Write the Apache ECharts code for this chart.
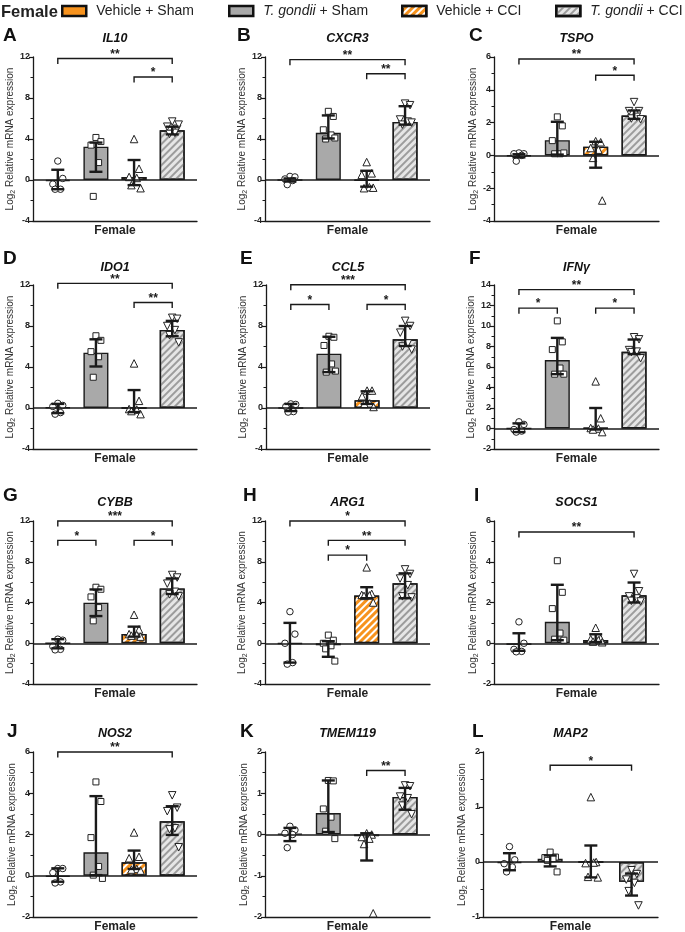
<!DOCTYPE html>
<html>
<head>
<meta charset="utf-8">
<script src="https://cdn.jsdelivr.net/npm/echarts@6.0.0/dist/echarts.min.js"></script>
<style>
html, body { margin: 0; padding: 0; background: #fff; }
#main { width: 685px; height: 932px; }
</style>
</head>
<body>
<div id="main"></div>
<script>
// groups and panels
const groupNames = ['Vehicle + Sham', 'T. gondii + Sham', 'Vehicle + CCI', 'T. gondii + CCI'];
const panelLetters = ['A', 'B', 'C', 'D', 'E', 'F', 'G', 'H', 'I', 'J', 'K', 'L'];
const genes = ['IL10', 'CXCR3', 'TSPO', 'IDO1', 'CCL5', 'IFNγ', 'CYBB', 'ARG1', 'SOCS1', 'NOS2', 'TMEM119', 'MAP2'];
const xLabel = ['Female'];

// y axis ranges
const yMin = [-4, -4, -4, -4, -4, -2, -4, -4, -2, -2, -2, -1];
const yMax = [12, 12, 6, 12, 12, 14, 12, 12, 6, 6, 2, 2];
const yStep = [4, 4, 2, 4, 4, 2, 4, 4, 2, 2, 1, 1];

// bar heights (one per group)
const barMed = [
    [-0.1, 3.25, 0.3, 4.85],
    [0.0, 4.6, -0.05, 5.67],
    [-0.05, 0.93, 0.53, 2.43],
    [0.05, 5.4, 0.0, 7.62],
    [0.0, 5.3, 0.75, 6.7],
    [0.0, 6.68, 0.05, 7.48],
    [0.0, 3.98, 0.9, 5.38],
    [-0.05, -0.2, 4.68, 5.89],
    [-0.08, 1.05, 0.16, 2.35],
    [-0.05, 1.14, 0.65, 2.64],
    [0.02, 0.52, -0.04, 0.91],
    [-0.02, 0.06, 0.0, -0.36]
];

// error bar ends
const errLow = [
    [-0.9, 0.8, -0.5, 4.45],
    [-0.15, 4.05, -0.65, 5.4],
    [-0.12, 0.05, -0.75, 2.23],
    [-0.5, 4.05, -0.4, 7.0],
    [-0.3, 3.5, 0.4, 6.05],
    [-0.35, 5.3, -0.1, 7.26],
    [-0.5, 2.67, 0.65, 4.83],
    [-1.9, -1.33, 4.42, 4.42],
    [-0.37, 0.15, 0.06, 2.0],
    [-0.29, 0.03, 0.33, 1.98],
    [-0.16, 0.06, -0.63, 0.6],
    [-0.15, -0.08, -0.28, -0.61]
];
const errHigh = [
    [1.0, 3.65, 1.95, 5.2],
    [0.15, 6.3, 0.9, 7.2],
    [0.07, 2.05, 0.83, 2.74],
    [0.4, 6.7, 1.75, 8.5],
    [0.4, 6.95, 1.63, 8.0],
    [0.5, 8.84, 2.0, 8.68],
    [0.4, 5.28, 1.63, 6.36],
    [2.0, 0.2, 5.5, 6.86],
    [0.49, 2.87, 0.44, 2.98],
    [0.36, 3.86, 1.22, 3.37],
    [0.16, 1.31, 0.03, 1.13],
    [0.16, 0.12, 0.3, -0.21]
];

// individual animals
const points = [
    [[1.85, 0.15, -0.4, -0.9, -0.9], [4.15, 3.75, 3.4, 1.7, -1.6], [4.0, 1.1, 0.3, 0.2, -0.5, -0.8], [5.7, 5.0, 5.2, 4.6, 4.5, 5.4]],
    [[0.35, 0.3, 0.1, -0.05, -0.45], [6.7, 6.2, 4.9, 4.4, 4.0, 4.1], [1.75, 0.65, 0.5, -0.7, -0.8, -0.75], [7.45, 7.3, 5.9, 5.7, 5.4, 5.6]],
    [[0.15, 0.1, 0.1, 0.0, -0.35], [2.35, 1.8, 0.9, 0.1, 0.1, 0.15], [0.87, 0.8, 0.45, 0.35, -0.15, -2.75], [3.25, 2.7, 2.7, 2.35, 2.25, 2.2]],
    [[0.45, 0.25, 0.15, -0.45, -0.6], [7.05, 6.6, 5.5, 5.0, 3.0], [4.35, 0.7, -0.1, -0.15, -0.3, -0.6], [8.8, 8.7, 8.0, 7.6, 7.1, 6.4]],
    [[0.4, 0.35, 0.15, -0.35, -0.4], [7.0, 6.9, 6.1, 4.3, 3.5, 3.6], [1.7, 1.7, 1.15, 0.45, 0.4, 0.1], [8.5, 8.0, 7.35, 6.3, 6.0, 5.7]],
    [[0.65, 0.4, -0.1, -0.25, -0.35], [10.5, 8.45, 7.7, 5.9, 5.3, 5.3], [4.6, 1.0, 0.05, 0.0, -0.1, -0.35], [8.9, 8.7, 7.65, 7.5, 7.45, 6.85]],
    [[0.4, 0.3, -0.3, -0.6, -0.65], [5.5, 5.3, 4.55, 3.5, 2.2], [2.8, 1.35, 0.9, 0.8, 0.75, 0.65], [6.7, 6.45, 5.85, 5.05, 4.8, 4.6]],
    [[3.1, 0.9, 0.0, -1.9, -2.05], [0.8, 0.3, 0.0, -0.25, -0.55, -1.75], [7.45, 4.85, 4.75, 4.7, 4.65, 4.0], [7.25, 6.8, 6.35, 5.7, 4.6, 4.5]],
    [[1.05, 0.0, -0.3, -0.4, -0.42], [4.05, 2.5, 1.7, 0.5, 0.2, 0.15], [0.76, 0.23, 0.2, 0.15, 0.08, 0.05], [3.4, 2.55, 2.3, 2.2, 2.08, 2.05]],
    [[0.35, 0.35, 0.15, -0.3, -0.35], [4.55, 3.6, 1.85, 0.45, 0.03, -0.13], [2.1, 0.92, 0.85, 0.33, 0.3, 0.25], [3.9, 3.3, 3.13, 2.3, 2.25, 1.38]],
    [[0.2, 0.11, 0.03, 0.0, -0.32], [1.31, 1.3, 0.62, 0.42, 0.08, -0.1], [0.03, 0.0, -0.06, -0.1, -0.23, -1.91], [1.19, 1.17, 0.92, 0.88, 0.7, 0.49]],
    [[0.28, 0.04, -0.03, -0.09, -0.18], [0.18, 0.09, 0.08, 0.06, 0.03, -0.18], [1.18, 0.0, -0.02, -0.01, -0.27, -0.28], [-0.15, -0.22, -0.32, -0.38, -0.53, -0.79]]
];

// significance brackets: [from group, to group, height, stars]
const sigBars = [
    [[0, 3, 11.85, '**'], [2, 3, 10.05, '*']],
    [[0, 3, 11.74, '**'], [2, 3, 10.36, '**']],
    [[0, 3, 5.88, '**'], [2, 3, 4.89, '*']],
    [[0, 3, 12.16, '**'], [2, 3, 10.3, '**']],
    [[0, 3, 12.03, '***'], [0, 1, 10.1, '*'], [2, 3, 10.1, '*']],
    [[0, 3, 13.55, '**'], [0, 1, 11.74, '*'], [2, 3, 11.74, '*']],
    [[0, 3, 12.0, '***'], [0, 1, 10.1, '*'], [2, 3, 10.1, '*']],
    [[0, 3, 12.0, '*'], [1, 3, 10.1, '**'], [1, 2, 8.65, '*']],
    [[0, 3, 5.46, '**']],
    [[0, 3, 6.0, '**']],
    [[2, 3, 1.55, '**']],
    [[1, 3, 1.76, '*']]
];

// layout
const gridLeft = [33, 265, 494, 33, 266, 494, 33, 265, 494, 33, 265, 483];
const gridRight = [197, 430, 659, 197, 430, 659, 197, 430, 659, 197, 430, 658];
const rowTop = [57, 285, 521, 752];
const rowBottom = [221, 449, 684, 917];
const letterX = [3, 237, 469, 3, 240, 469, 3, 243, 474, 7, 240, 472];
const letterY = [36, 259, 496, 732];
const titleY = [39, 268, 503, 734];
const legendLeft = [61, 228, 401, 555];

const FONT = 'Arial, "Liberation Sans", sans-serif';
const INK = '#1a1a1a';

const groupStyles = [
    { color: '#f7931e' },
    { color: '#a9a9a9' },
    { color: '#f7931e', decal: { symbol: 'rect', symbolSize: 1, dashArrayX: [1, 0], dashArrayY: [2, 3], rotation: -Math.PI / 4, color: '#ffffff' } },
    { color: '#e6e6e6', decal: { symbol: 'rect', symbolSize: 1, dashArrayX: [1, 0], dashArrayY: [1.5, 2.5], rotation: -Math.PI / 4, color: '#9c9c9c' } }
];
const markerSymbols = ['circle', 'rect', 'triangle', 'triangle'];
const markerRotate = [0, 0, 0, 180];
const markerSize = [6.5, 6, 7.5, 7.5];
const jitter = [0, 0.13, -0.13, 0.07, -0.07, 0.17];

function renderErr(params, api) {
    let x = api.value(0);
    let lo = api.coord([x, api.value(1)]);
    let hi = api.coord([x, api.value(2)]);
    let cap = 6.5;
    let st = () => ({ stroke: INK, lineWidth: 2.4 });
    return {
        type: 'group',
        children: [
            { type: 'line', shape: { x1: lo[0], y1: lo[1], x2: hi[0], y2: hi[1] }, style: st() },
            { type: 'line', shape: { x1: hi[0] - cap, y1: hi[1], x2: hi[0] + cap, y2: hi[1] }, style: st() },
            { type: 'line', shape: { x1: lo[0] - cap, y1: lo[1], x2: lo[0] + cap, y2: lo[1] }, style: st() }
        ]
    };
}

function renderBracket(params, api, label) {
    let a = api.coord([api.value(0), api.value(2)]);
    let b = api.coord([api.value(1), api.value(2)]);
    let drop = 5.5;
    return {
        type: 'group',
        children: [
            {
                type: 'polyline',
                shape: { points: [[a[0], a[1] + drop], [a[0], a[1]], [b[0], b[1]], [b[0], b[1] + drop]] },
                style: { stroke: INK, lineWidth: 1.4, fill: null }
            },
            {
                type: 'text',
                x: (a[0] + b[0]) / 2,
                y: a[1] - 4,
                style: {
                    text: label, font: 'bold 12px ' + FONT, fill: INK,
                    align: 'center', verticalAlign: 'middle', textAlign: 'center', textVerticalAlign: 'middle'
                }
            }
        ]
    };
}

let grids = [], xAxes = [], yAxes = [], series = [], graphics = [];

genes.forEach((gene, p) => {
    let row = Math.floor(p / 3);
    let left = gridLeft[p], right = gridRight[p];
    grids.push({
        left: left, top: rowTop[row], width: right - left, height: rowBottom[row] - rowTop[row],
        containLabel: false, outerBoundsMode: 'none'
    });
    xAxes.push({ gridIndex: p, type: 'value', min: -0.65, max: 3.65, show: false });
    xAxes.push({
        gridIndex: p, type: 'category', data: xLabel, position: 'bottom',
        axisLine: { onZero: false, lineStyle: { color: INK, width: 1.3 } },
        axisTick: { alignWithLabel: true, length: 4, lineStyle: { color: INK, width: 1.2 } },
        axisLabel: { fontSize: 12, fontWeight: 'bold', color: '#222', margin: 4, fontFamily: FONT },
        splitLine: { show: false }
    });
    yAxes.push({
        gridIndex: p, type: 'value', min: yMin[p], max: yMax[p], interval: yStep[p],
        name: '{n|Log}{s|2}{n| Relative mRNA expression}',
        nameLocation: 'middle', nameGap: 12,
        nameTextStyle: {
            color: '#333', fontSize: 10, fontFamily: FONT,
            rich: {
                n: { fontSize: 10, color: '#333', fontFamily: FONT },
                s: { fontSize: 7, color: '#333', fontFamily: FONT, verticalAlign: 'bottom', padding: [4, 0, 0, 0] }
            }
        },
        axisLine: { show: true, onZero: false, lineStyle: { color: INK, width: 1.3 } },
        axisTick: { show: true, length: 4, lineStyle: { color: INK, width: 1.2 } },
        minorTick: { show: true, splitNumber: 2, length: 2.5, lineStyle: { color: INK, width: 1 } },
        splitLine: { show: false },
        axisLabel: { fontSize: 9, fontWeight: 'bold', color: '#222', margin: 3, fontFamily: FONT }
    });

    groupNames.forEach((g, k) => {
        let s = {
            type: 'bar', name: g, xAxisIndex: 2 * p, yAxisIndex: p,
            data: [[k, barMed[p][k]]],
            barWidth: 25, barGap: '-100%',
            itemStyle: Object.assign({ borderColor: INK, borderWidth: 1.4 }, groupStyles[k]),
            silent: true, z: 2
        };
        if (k === 0) {
            s.markLine = {
                silent: true, symbol: 'none', label: { show: false },
                lineStyle: { color: INK, width: 1.5, type: 'solid' },
                data: [{ yAxis: 0 }]
            };
        }
        series.push(s);
    });

    let pts = [];
    points[p].forEach((vals, k) => {
        vals.forEach((v, i) => {
            pts.push({
                value: [k + jitter[i], v],
                symbol: markerSymbols[k],
                symbolRotate: markerRotate[k],
                symbolSize: markerSize[k]
            });
        });
    });
    series.push({
        type: 'scatter', xAxisIndex: 2 * p, yAxisIndex: p, data: pts,
        itemStyle: { color: '#fff', borderColor: '#222', borderWidth: 1, opacity: 1 },
        silent: true, z: 3
    });

    series.push({
        type: 'custom', xAxisIndex: 2 * p, yAxisIndex: p,
        data: errLow[p].map((lo, k) => [k, lo, errHigh[p][k]]),
        encode: { x: 0, y: [1, 2] },
        renderItem: renderErr, silent: true, z: 4
    });

    series.push({
        type: 'custom', xAxisIndex: 2 * p, yAxisIndex: p,
        data: sigBars[p].map(b => [b[0], b[1], b[2]]),
        encode: { x: [0, 1], y: 2 },
        renderItem: (params, api) => renderBracket(params, api, sigBars[p][params.dataIndex][3]),
        silent: true, z: 4
    });

    graphics.push({
        type: 'text', x: letterX[p], y: letterY[row],
        style: { text: panelLetters[p], font: 'bold 19px ' + FONT, fill: '#111', verticalAlign: 'middle', textVerticalAlign: 'middle' }
    });
    graphics.push({
        type: 'text', x: (left + right) / 2, y: titleY[row],
        style: {
            text: gene, font: 'italic bold 12.5px ' + FONT, fill: '#111',
            align: 'center', verticalAlign: 'middle', textAlign: 'center', textVerticalAlign: 'middle'
        }
    });
});

graphics.push({
    type: 'text', x: 1, y: 12,
    style: { text: 'Female', font: 'bold 16.5px ' + FONT, fill: '#222', verticalAlign: 'middle', textVerticalAlign: 'middle' }
});

let legends = groupNames.map((g, k) => ({
    data: [g],
    left: legendLeft[k], top: 4, padding: 0,
    icon: 'rect', itemWidth: 24, itemHeight: 10,
    selectedMode: false,
    itemStyle: { borderColor: '#111', borderWidth: 2.5 },
    textStyle: {
        fontSize: 14, color: '#222', fontFamily: FONT, padding: [0, 0, 0, 5],
        rich: { i: { fontSize: 14, color: '#222', fontStyle: 'italic', fontFamily: FONT } }
    },
    formatter: name => name.indexOf('T. gondii') === 0 ? '{i|T. gondii}' + name.slice(9) : name
}));

let myChart = echarts.init(document.getElementById('main'), null, { renderer: 'canvas' });
let option = {
    animation: false,
    backgroundColor: '#fff',
    textStyle: { fontFamily: FONT },
    legend: legends,
    grid: grids,
    xAxis: xAxes,
    yAxis: yAxes,
    graphic: graphics,
    series: series
};
myChart.setOption(option);
</script>
</body>
</html>
